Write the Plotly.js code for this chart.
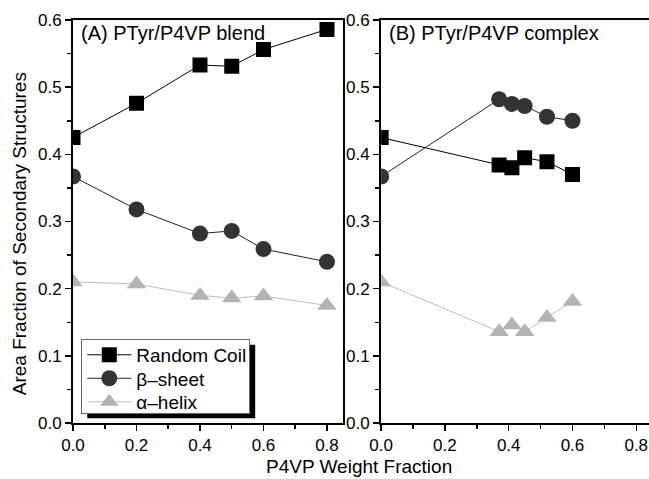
<!DOCTYPE html>
<html><head><meta charset="utf-8">
<script src="https://cdn.plot.ly/plotly-3.0.1.min.js"></script>
<style>html,body{margin:0;padding:0;background:#fff;overflow:hidden}</style>
</head><body><div id="chart" style="width:649px;height:479px"></div>
<script>
// Panel A: blend
const blendX = [0, 0.2, 0.4, 0.5, 0.6, 0.8];
const blendCoil = [0.425, 0.476, 0.533, 0.531, 0.556, 0.586];
const blendSheet = [0.367, 0.318, 0.282, 0.286, 0.259, 0.240];
const blendHelix = [0.210, 0.207, 0.190, 0.186, 0.189, 0.175];
// Panel B: complex
const complexX = [0, 0.37, 0.41, 0.45, 0.52, 0.60];
const complexCoil = [0.425, 0.384, 0.380, 0.395, 0.389, 0.370];
const complexSheet = [0.367, 0.482, 0.475, 0.472, 0.456, 0.450];
const complexHelix = [0.210, 0.136, 0.146, 0.136, 0.157, 0.181];
const seriesNames = ['Random Coil', 'β–sheet', 'α–helix'];
const xTickVals = [0, 0.2, 0.4, 0.6, 0.8];
const yTickVals = [0, 0.1, 0.2, 0.3, 0.4, 0.5, 0.6];

const FONT = 'Liberation Sans, Arial, sans-serif';
const styles = [
  {marker:{symbol:'square', size:15, color:'#000'}, line:{color:'#000', width:1}},
  {marker:{symbol:'circle', size:16, color:'#333'}, line:{color:'#222', width:1}},
  {marker:{symbol:'triangle-up', size:17, color:'#b3b3b3'}, line:{color:'#bdbdbd', width:1}}
];
const blendY = [blendCoil, blendSheet, blendHelix];
const complexY = [complexCoil, complexSheet, complexHelix];
const traces = [];
blendY.forEach((y, i) => traces.push(Object.assign({
  x: blendX, y: y, name: seriesNames[i], mode: 'lines+markers', xaxis:'x', yaxis:'y', showlegend:true
}, styles[i])));
complexY.forEach((y, i) => traces.push(Object.assign({
  x: complexX, y: y, name: seriesNames[i], mode: 'lines+markers', xaxis:'x2', yaxis:'y2', showlegend:false
}, styles[i])));

function xa(domain, range){
  return {domain:domain, range:range, showline:true, linewidth:2, linecolor:'#000', mirror:true,
    ticks:'outside', ticklen:6, tickwidth:1.5, tickcolor:'#000', tickvals:xTickVals, tickformat:'.1f',
    minor:{dtick:0.1, tick0:0, ticks:'outside', ticklen:4, tickwidth:1.5, tickcolor:'#000'},
    showgrid:false, zeroline:false, tickfont:{family:FONT, size:17, color:'#000'}, fixedrange:true};
}
function ya(anchor, mirror){
  return {anchor:anchor, range:[0,0.6], showline:true, linewidth:2, linecolor:'#000', mirror:mirror,
    ticks:'outside', ticklen:6, tickwidth:1.5, tickcolor:'#000', tickvals:yTickVals, tickformat:'.1f',
    minor:{dtick:0.05, tick0:0, ticks:'outside', ticklen:4, tickwidth:1.5, tickcolor:'#000'},
    showgrid:false, zeroline:false, tickfont:{family:FONT, size:17, color:'#000'}, fixedrange:true};
}
const layout = {
  width:649, height:479,
  margin:{l:72.7, r:0, t:20, b:56},
  paper_bgcolor:'#fff', plot_bgcolor:'rgba(0,0,0,0)',
  font:{family:FONT, size:19, color:'#000'},
  xaxis: Object.assign(xa([0, 0.4685], [0, 0.85]), {anchor:'y'}),
  yaxis: ya('x', true),
  xaxis2: Object.assign(xa([0.535, 1], [0, 0.84]), {anchor:'y2'}),
  yaxis2: ya('x2', false),
  showlegend:true,
  legend:{x:0.0144, y:0.209, xanchor:'left', yanchor:'top', bgcolor:'#fff', bordercolor:'#666', borderwidth:1,
    itemwidth:44, font:{family:FONT, size:19, color:'#000'}, tracegroupgap:0},
  shapes:[{type:'rect', xref:'paper', yref:'paper', x0:0.0248, x1:0.3163, y0:0.0119, y1:0.194,
    fillcolor:'#000', line:{width:0}, layer:'above'}],
  annotations:[
    {text:'(A) PTyr/P4VP blend', xref:'paper', yref:'paper', x:0.011, y:1.0, xanchor:'left', yanchor:'top', showarrow:false, font:{family:FONT, size:20}},
    {text:'(B) PTyr/P4VP complex', xref:'paper', yref:'paper', x:0.546, y:1.0, xanchor:'left', yanchor:'top', showarrow:false, font:{family:FONT, size:20}},
    {text:'P4VP Weight Fraction', xref:'paper', yref:'paper', x:(359-72.7)/576.3, y:-0.108, xanchor:'center', yanchor:'middle', showarrow:false, font:{family:FONT, size:19}},
    {text:'Area Fraction of Secondary Structures', xref:'paper', yref:'paper', x:-0.093, y:(423.3-234)/403.3, xanchor:'center', yanchor:'middle', textangle:-90, showarrow:false, font:{family:FONT, size:19}}
  ]
};
Plotly.newPlot('chart', traces, layout, {displayModeBar:false, staticPlot:true}).then(gd => {
  // compact the legend rows to match the reference spacing
  const leg = gd.querySelector('.legend');
  if (!leg) return;
  const items = leg.querySelectorAll('g.traces');
  const rowGap = 23.5, firstRow = 16;
  items.forEach((g, i) => {
    const m = /translate\(\s*([-\d.e]+)[ ,]+([-\d.e]+)\s*\)/.exec(g.getAttribute('transform') || '');
    const tx = m ? m[1] : 0;
    g.setAttribute('transform', 'translate(' + tx + ',' + (firstRow + i * rowGap) + ')');
  });
  const bg = leg.querySelector('rect.bg');
  if (bg) { bg.setAttribute('height', 74); bg.setAttribute('width', 168); }
  leg.querySelectorAll('[clip-path]').forEach(el => el.removeAttribute('clip-path'));
  if (leg.hasAttribute('clip-path')) leg.removeAttribute('clip-path');
});
</script></body></html>
